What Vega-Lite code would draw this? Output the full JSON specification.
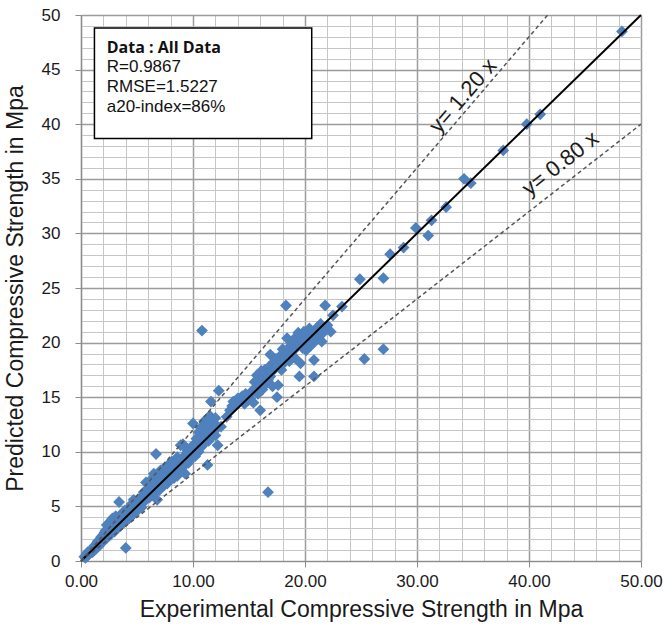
{
  "$schema": "https://vega.github.io/schema/vega-lite/v6.json",
  "width": 560,
  "height": 546,
  "autosize": {"type": "none"},
  "padding": {"left": 81, "top": 15, "right": 22, "bottom": 66},
  "background": "white",
  "config": {
    "view": {"stroke": null},
    "font": "Liberation Sans",
    "axis": {
      "titleFont": "Liberation Sans", "titleFontSize": 23, "titleFontWeight": "normal", "titleColor": "#1a1a1a",
      "titleBaseline": "alphabetic",
      "labelFont": "Liberation Sans", "labelFontSize": 17, "labelColor": "#1a1a1a",
      "labelFlush": false, "labelOverlap": false,
      "grid": true, "ticks": true, "tickSize": 6, "tickColor": "#8c8c8c",
      "domainColor": "#8c8c8c", "domainWidth": 1.2
    },
    "axisX": {"titleY": 55, "labelPadding": 6},
    "axisY": {"titleX": -59, "labelPadding": 15}
  },
  "datasets": {
    "points": [
      {"exp":0.3,"pred":0.4},{"exp":0.4,"pred":0.3},{"exp":0.5,"pred":0.6},{"exp":0.6,"pred":0.5},{"exp":0.6,"pred":0.8},{"exp":0.7,"pred":0.6},{"exp":0.8,"pred":0.9},{"exp":0.8,"pred":0.7},{"exp":0.9,"pred":1.0},{"exp":1.0,"pred":0.8},
      {"exp":1.0,"pred":1.1},{"exp":1.1,"pred":1.2},{"exp":1.1,"pred":0.9},{"exp":1.2,"pred":1.0},{"exp":1.2,"pred":1.4},{"exp":1.3,"pred":1.3},{"exp":1.3,"pred":1.1},{"exp":1.4,"pred":1.6},{"exp":1.4,"pred":1.2},{"exp":1.5,"pred":1.5},
      {"exp":1.5,"pred":1.8},{"exp":1.6,"pred":1.4},{"exp":1.6,"pred":1.7},{"exp":1.7,"pred":2.0},{"exp":1.7,"pred":1.5},{"exp":1.8,"pred":1.8},{"exp":1.8,"pred":2.2},{"exp":1.9,"pred":1.7},{"exp":1.9,"pred":2.1},{"exp":2.0,"pred":2.4},
      {"exp":2.0,"pred":1.9},{"exp":2.1,"pred":2.6},{"exp":2.1,"pred":2.0},{"exp":2.2,"pred":2.3},{"exp":2.2,"pred":2.8},{"exp":2.3,"pred":2.1},{"exp":2.3,"pred":3.3},{"exp":2.4,"pred":2.6},{"exp":2.5,"pred":3.0},{"exp":2.5,"pred":2.3},
      {"exp":2.6,"pred":2.8},{"exp":2.6,"pred":3.6},{"exp":2.7,"pred":2.5},{"exp":2.7,"pred":3.1},{"exp":2.8,"pred":3.9},{"exp":2.8,"pred":2.9},{"exp":2.9,"pred":3.3},{"exp":3.0,"pred":2.7},{"exp":3.0,"pred":3.6},{"exp":3.1,"pred":3.0},
      {"exp":3.1,"pred":4.1},{"exp":3.2,"pred":3.4},{"exp":3.3,"pred":3.1},{"exp":3.3,"pred":3.8},{"exp":3.4,"pred":5.4},{"exp":3.4,"pred":3.5},{"exp":3.5,"pred":4.2},{"exp":3.5,"pred":3.2},{"exp":3.6,"pred":3.7},{"exp":3.7,"pred":4.4},
      {"exp":3.7,"pred":3.4},{"exp":3.8,"pred":3.9},{"exp":3.9,"pred":4.6},{"exp":3.9,"pred":3.6},{"exp":4.0,"pred":1.2},{"exp":4.0,"pred":4.1},{"exp":4.1,"pred":3.8},{"exp":4.2,"pred":4.8},{"exp":4.2,"pred":4.3},{"exp":4.3,"pred":3.9},
      {"exp":4.4,"pred":4.5},{"exp":4.5,"pred":5.2},{"exp":4.5,"pred":4.1},{"exp":4.6,"pred":4.7},{"exp":4.7,"pred":5.6},{"exp":4.8,"pred":4.4},{"exp":4.9,"pred":5.0},{"exp":5.0,"pred":5.4},{"exp":5.0,"pred":4.6},
      {"exp":5.2,"pred":5.1},{"exp":5.3,"pred":5.8},{"exp":5.4,"pred":4.9},{"exp":5.5,"pred":5.6},{"exp":5.6,"pred":6.3},{"exp":5.7,"pred":5.5},{"exp":5.8,"pred":7.2},{"exp":5.9,"pred":6.0},{"exp":6.0,"pred":6.6},{"exp":6.1,"pred":5.8},
      {"exp":6.2,"pred":7.4},{"exp":6.3,"pred":6.4},{"exp":6.4,"pred":7.0},{"exp":6.5,"pred":8.0},{"exp":6.5,"pred":6.2},{"exp":6.6,"pred":6.8},{"exp":6.7,"pred":9.8},{"exp":6.7,"pred":7.3},{"exp":6.8,"pred":5.6},{"exp":6.9,"pred":6.9},
      {"exp":7.0,"pred":7.6},{"exp":7.0,"pred":6.5},{"exp":7.1,"pred":8.3},{"exp":7.2,"pred":7.2},{"exp":7.3,"pred":7.8},{"exp":7.4,"pred":6.9},{"exp":7.5,"pred":8.6},{"exp":7.5,"pred":7.4},{"exp":7.6,"pred":8.0},{"exp":7.7,"pred":7.1},
      {"exp":7.8,"pred":8.8},{"exp":7.8,"pred":7.7},{"exp":7.9,"pred":8.3},{"exp":8.0,"pred":7.5},{"exp":8.1,"pred":9.1},{"exp":8.1,"pred":8.0},{"exp":8.2,"pred":8.6},{"exp":8.3,"pred":7.6},{"exp":8.4,"pred":8.9},{"exp":8.5,"pred":8.2},
      {"exp":8.6,"pred":9.5},{"exp":8.6,"pred":7.8},{"exp":8.7,"pred":8.7},{"exp":8.8,"pred":9.2},{"exp":8.9,"pred":10.6},{"exp":8.9,"pred":8.3},{"exp":9.0,"pred":9.0},{"exp":9.1,"pred":10.7},{"exp":9.1,"pred":8.6},{"exp":9.2,"pred":9.6},
      {"exp":9.3,"pred":8.0},{"exp":9.4,"pred":9.3},{"exp":9.5,"pred":10.1},{"exp":9.6,"pred":9.0},{"exp":9.7,"pred":9.8},{"exp":9.8,"pred":10.4},{"exp":9.9,"pred":9.4},{"exp":10.0,"pred":10.0},{"exp":10.0,"pred":12.6},{"exp":10.1,"pred":10.7},
      {"exp":10.2,"pred":9.6},{"exp":10.3,"pred":11.2},{"exp":10.4,"pred":10.3},{"exp":10.5,"pred":11.8},{"exp":10.5,"pred":10.0},{"exp":10.6,"pred":10.9},{"exp":10.7,"pred":12.2},{"exp":10.8,"pred":21.1},{"exp":10.8,"pred":10.5},{"exp":10.9,"pred":11.5},
      {"exp":11.0,"pred":12.8},{"exp":11.0,"pred":10.8},{"exp":11.1,"pred":11.9},{"exp":11.2,"pred":11.2},{"exp":11.3,"pred":8.8},{"exp":11.3,"pred":12.5},{"exp":11.4,"pred":11.0},{"exp":11.5,"pred":13.3},{"exp":11.5,"pred":11.7},{"exp":11.6,"pred":14.6},
      {"exp":11.6,"pred":12.1},{"exp":11.7,"pred":11.4},{"exp":11.8,"pred":12.7},{"exp":11.9,"pred":11.9},{"exp":12.0,"pred":13.1},{"exp":12.0,"pred":11.5},{"exp":12.1,"pred":12.4},{"exp":12.3,"pred":15.6},{"exp":12.2,"pred":10.6},{"exp":12.5,"pred":12.3},
      {"exp":13.0,"pred":13.2},{"exp":13.3,"pred":13.8},{"exp":13.5,"pred":14.2},{"exp":13.6,"pred":14.6},{"exp":13.8,"pred":14.3},{"exp":14.0,"pred":14.9},{"exp":14.1,"pred":14.5},{"exp":14.3,"pred":14.8},{"exp":14.4,"pred":15.1},{"exp":14.6,"pred":14.4},
      {"exp":14.7,"pred":15.3},{"exp":14.9,"pred":14.7},{"exp":15.0,"pred":15.2},{"exp":15.1,"pred":14.9},{"exp":15.3,"pred":15.6},{"exp":15.4,"pred":14.5},{"exp":15.5,"pred":16.4},{"exp":15.6,"pred":15.8},{"exp":15.7,"pred":17.0},{"exp":15.8,"pred":15.3},
      {"exp":15.9,"pred":16.5},{"exp":16.0,"pred":13.8},{"exp":16.0,"pred":16.1},{"exp":16.1,"pred":17.4},{"exp":16.2,"pred":15.7},{"exp":16.3,"pred":16.8},{"exp":16.4,"pred":17.5},{"exp":16.5,"pred":16.2},{"exp":16.6,"pred":17.1},{"exp":16.7,"pred":6.3},
      {"exp":16.7,"pred":16.6},{"exp":16.8,"pred":17.8},{"exp":16.9,"pred":18.9},{"exp":16.9,"pred":16.9},{"exp":17.0,"pred":17.3},{"exp":17.1,"pred":16.0},{"exp":17.2,"pred":18.2},{"exp":17.3,"pred":17.6},{"exp":17.5,"pred":15.0},{"exp":17.4,"pred":18.5},
      {"exp":17.6,"pred":16.1},{"exp":17.6,"pred":17.9},{"exp":17.8,"pred":18.8},{"exp":17.9,"pred":17.5},{"exp":18.0,"pred":19.4},{"exp":18.1,"pred":18.1},{"exp":18.3,"pred":23.4},{"exp":18.2,"pred":18.6},{"exp":18.4,"pred":20.4},{"exp":18.5,"pred":19.0},
      {"exp":18.6,"pred":18.3},{"exp":18.7,"pred":19.7},{"exp":18.8,"pred":18.9},{"exp":18.9,"pred":20.2},{"exp":19.0,"pred":19.3},{"exp":19.1,"pred":18.6},{"exp":19.2,"pred":20.5},{"exp":19.3,"pred":19.7},{"exp":19.4,"pred":20.9},{"exp":19.5,"pred":16.9},
      {"exp":19.5,"pred":19.9},{"exp":19.6,"pred":18.1},{"exp":19.7,"pred":20.3},{"exp":19.8,"pred":19.5},{"exp":19.9,"pred":21.0},{"exp":20.0,"pred":20.1},{"exp":20.1,"pred":19.3},{"exp":20.2,"pred":20.8},{"exp":20.3,"pred":20.0},{"exp":20.4,"pred":21.3},
      {"exp":20.5,"pred":19.7},{"exp":20.6,"pred":20.5},{"exp":20.8,"pred":16.9},{"exp":20.8,"pred":18.4},{"exp":20.9,"pred":20.9},{"exp":21.0,"pred":20.2},{"exp":21.1,"pred":21.4},{"exp":21.3,"pred":20.6},{"exp":21.4,"pred":21.7},{"exp":21.5,"pred":20.1},
      {"exp":21.6,"pred":20.9},{"exp":21.8,"pred":23.4},{"exp":21.9,"pred":21.2},{"exp":22.0,"pred":21.6},{"exp":22.3,"pred":21.0},{"exp":22.5,"pred":22.5},{"exp":23.3,"pred":23.3},
      {"exp":24.9,"pred":25.8},{"exp":25.3,"pred":18.5},{"exp":27.0,"pred":25.9},{"exp":27.0,"pred":19.4},{"exp":27.6,"pred":28.1},{"exp":28.8,"pred":28.7},{"exp":29.9,"pred":30.5},{"exp":31.0,"pred":29.8},{"exp":31.3,"pred":31.2},{"exp":32.6,"pred":32.4},
      {"exp":34.2,"pred":35.0},{"exp":34.8,"pred":34.6},{"exp":37.7,"pred":37.6},{"exp":39.8,"pred":40.0},{"exp":41.0,"pred":40.9},{"exp":48.3,"pred":48.5}
    ],
    "lines": [
      {"line":"equal","exp":0,"pred":0},{"line":"equal","exp":50,"pred":50},
      {"line":"upper","exp":0,"pred":0},{"line":"upper","exp":41.667,"pred":50},
      {"line":"lower","exp":0,"pred":0},{"line":"lower","exp":50,"pred":40}
    ]
  },
  "encoding": {
    "x": {
      "field": "exp", "type": "quantitative",
      "scale": {"domain": [0, 50], "nice": false, "zero": true},
      "axis": {
        "title": "Experimental  Compressive Strength  in Mpa",
        "values": [0,2,4,6,8,10,12,14,16,18,20,22,24,26,28,30,32,34,36,38,40,42,44,46,48,50],
        "labelExpr": "datum.value % 10 === 0 ? format(datum.value, '.2f') : ''",
        "gridColor": {"condition": {"test": "datum.value % 10 === 0", "value": "#9c9c9c"}, "value": "#c6c6c6"},
        "gridWidth": {"condition": {"test": "datum.value % 10 === 0", "value": 1.5}, "value": 1},
        "tickOpacity": {"condition": {"test": "datum.value % 10 === 0", "value": 1}, "value": 0}
      }
    },
    "y": {
      "field": "pred", "type": "quantitative",
      "scale": {"domain": [0, 50], "nice": false, "zero": true},
      "axis": {
        "title": "Predicted Compressive Strength in Mpa",
        "values": [0,1,2,3,4,5,6,7,8,9,10,11,12,13,14,15,16,17,18,19,20,21,22,23,24,25,26,27,28,29,30,31,32,33,34,35,36,37,38,39,40,41,42,43,44,45,46,47,48,49,50],
        "labelExpr": "datum.value % 5 === 0 ? datum.label : ''",
        "gridColor": {"condition": {"test": "datum.value % 5 === 0", "value": "#9c9c9c"}, "value": "#c6c6c6"},
        "gridWidth": {"condition": {"test": "datum.value % 5 === 0", "value": 1.5}, "value": 1},
        "tickOpacity": {"condition": {"test": "datum.value % 5 === 0", "value": 1}, "value": 0}
      }
    }
  },
  "layer": [
    {
      "data": {"name": "points"},
      "mark": {"type": "point", "shape": "diamond", "filled": true, "size": 140, "color": "#4f81bd", "opacity": 1, "strokeWidth": 0}
    },
    {
      "data": {"name": "lines"},
      "transform": [{"filter": "datum.line === 'equal'"}],
      "mark": {"type": "line", "color": "#000000", "strokeWidth": 2}
    },
    {
      "data": {"name": "lines"},
      "transform": [{"filter": "datum.line !== 'equal'"}],
      "mark": {"type": "line", "color": "#555555", "strokeWidth": 1.5, "strokeDash": [4, 3]},
      "encoding": {"detail": {"field": "line"}}
    },
    {
      "data": {"name": "lines"},
      "transform": [{"filter": "datum.line === 'equal' && datum.exp === 0"}],
      "mark": {"type": "rect", "fill": "white", "stroke": "#000000", "strokeWidth": 1.5},
      "encoding": {
        "x": {"datum": 1.2},
        "x2": {"datum": 20.6},
        "y": {"datum": 48.8},
        "y2": {"datum": 38.7}
      }
    },
    {
      "data": {"name": "lines"},
      "transform": [{"filter": "datum.line === 'equal' && datum.exp === 0"}],
      "mark": {"type": "text", "text": "Data : All Data", "font": "Open Sans", "fontWeight": "bold", "fontSize": 16, "align": "left", "baseline": "middle", "color": "#111111"},
      "encoding": {
        "x": {"datum": 2.3},
        "y": {"datum": 47.0}
      }
    },
    {
      "data": {"name": "lines"},
      "transform": [{"filter": "datum.line === 'equal' && datum.exp === 0"}],
      "mark": {"type": "text", "text": ["R=0.9867", "RMSE=1.5227", "a20-index=86%"], "font": "Liberation Sans", "fontSize": 17, "lineHeight": 20, "align": "left", "baseline": "middle", "color": "#111111"},
      "encoding": {
        "x": {"datum": 2.3},
        "y": {"datum": 45.2}
      }
    },
    {
      "data": {"name": "lines"},
      "transform": [{"filter": "datum.line === 'equal' && datum.exp === 0"}],
      "mark": {"type": "text", "text": "y= 1.20 x", "font": "Liberation Sans", "fontSize": 22, "angle": -49, "align": "center", "baseline": "middle", "color": "#1a1a1a"},
      "encoding": {
        "x": {"datum": 34.1},
        "y": {"datum": 42.6}
      }
    },
    {
      "data": {"name": "lines"},
      "transform": [{"filter": "datum.line === 'equal' && datum.exp === 0"}],
      "mark": {"type": "text", "text": "y= 0.80 x", "font": "Liberation Sans", "fontSize": 22, "angle": -38, "align": "center", "baseline": "middle", "color": "#1a1a1a"},
      "encoding": {
        "x": {"datum": 42.8},
        "y": {"datum": 36.4}
      }
    }
  ]
}
